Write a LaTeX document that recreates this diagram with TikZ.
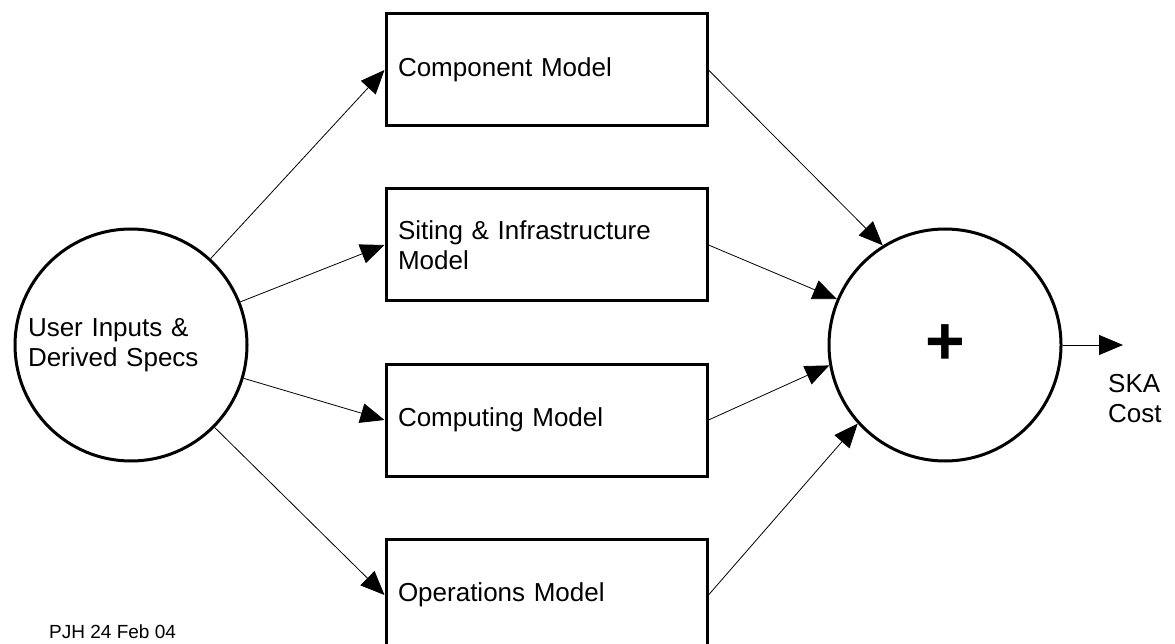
\documentclass[tikz,border=0pt]{standalone}
\usepackage{fontspec}
\setmainfont{Liberation Sans}
\usetikzlibrary{positioning}
\usetikzlibrary{arrows.meta}

\begin{document}
\begin{tikzpicture}[x=1pt, y=-1pt,
    every node/.style={font=\fontsize{26}{30}\selectfont},
    model/.style={draw, line width=3pt, minimum width=321pt, minimum height=112pt,
      text width=297pt, inner xsep=12pt, inner ysep=0pt, align=left},
    blob/.style={draw, circle, line width=3pt, minimum size=232pt, inner sep=0pt},
    feed/.style={line width=0.8pt, -{Triangle[length=24pt, width=20pt]}}]
  \useasboundingbox (0,0) rectangle (1175,644);
  \node[blob, text width=206pt, align=left] (user) at (131,345)
    {User Inputs \&\\Derived Specs};
  \node[blob, font=\fontsize{68}{68}\selectfont\bfseries] (sum) at (945,345) {+};
  \node[model, anchor=north west] (comp) at (384.5,12.5) {Component Model};
  \begin{scope}[node distance=60pt]
    \node[model, below=of comp] (site) {Siting \& Infrastructure\\Model};
    \node[model, below=of site] (cpu) {Computing Model};
    \node[model, below=of cpu] (ops) {Operations Model};
  \end{scope}
  \foreach \mdl in {comp, site, cpu, ops}
    \draw[feed] (user) -- (\mdl.west);
  \draw[feed] (comp.east) -- (sum.122);
  \draw[feed] (site.east) -- (sum.157);
  \draw[feed] (cpu.east) -- (sum.190);
  \draw[feed] (ops.east) -- (sum.222);
  \coordinate (out) at (1123,345);
  \draw[feed] (sum) -- (out);
  \node[anchor=west, align=left, inner sep=0pt] (ska) at (1108,399) {SKA\\Cost};
  \node[anchor=base west, inner sep=0pt, font=\fontsize{19}{22}\selectfont] (stamp)
    at (49,638) {PJH 24 Feb 04};
\end{tikzpicture}
\end{document}
